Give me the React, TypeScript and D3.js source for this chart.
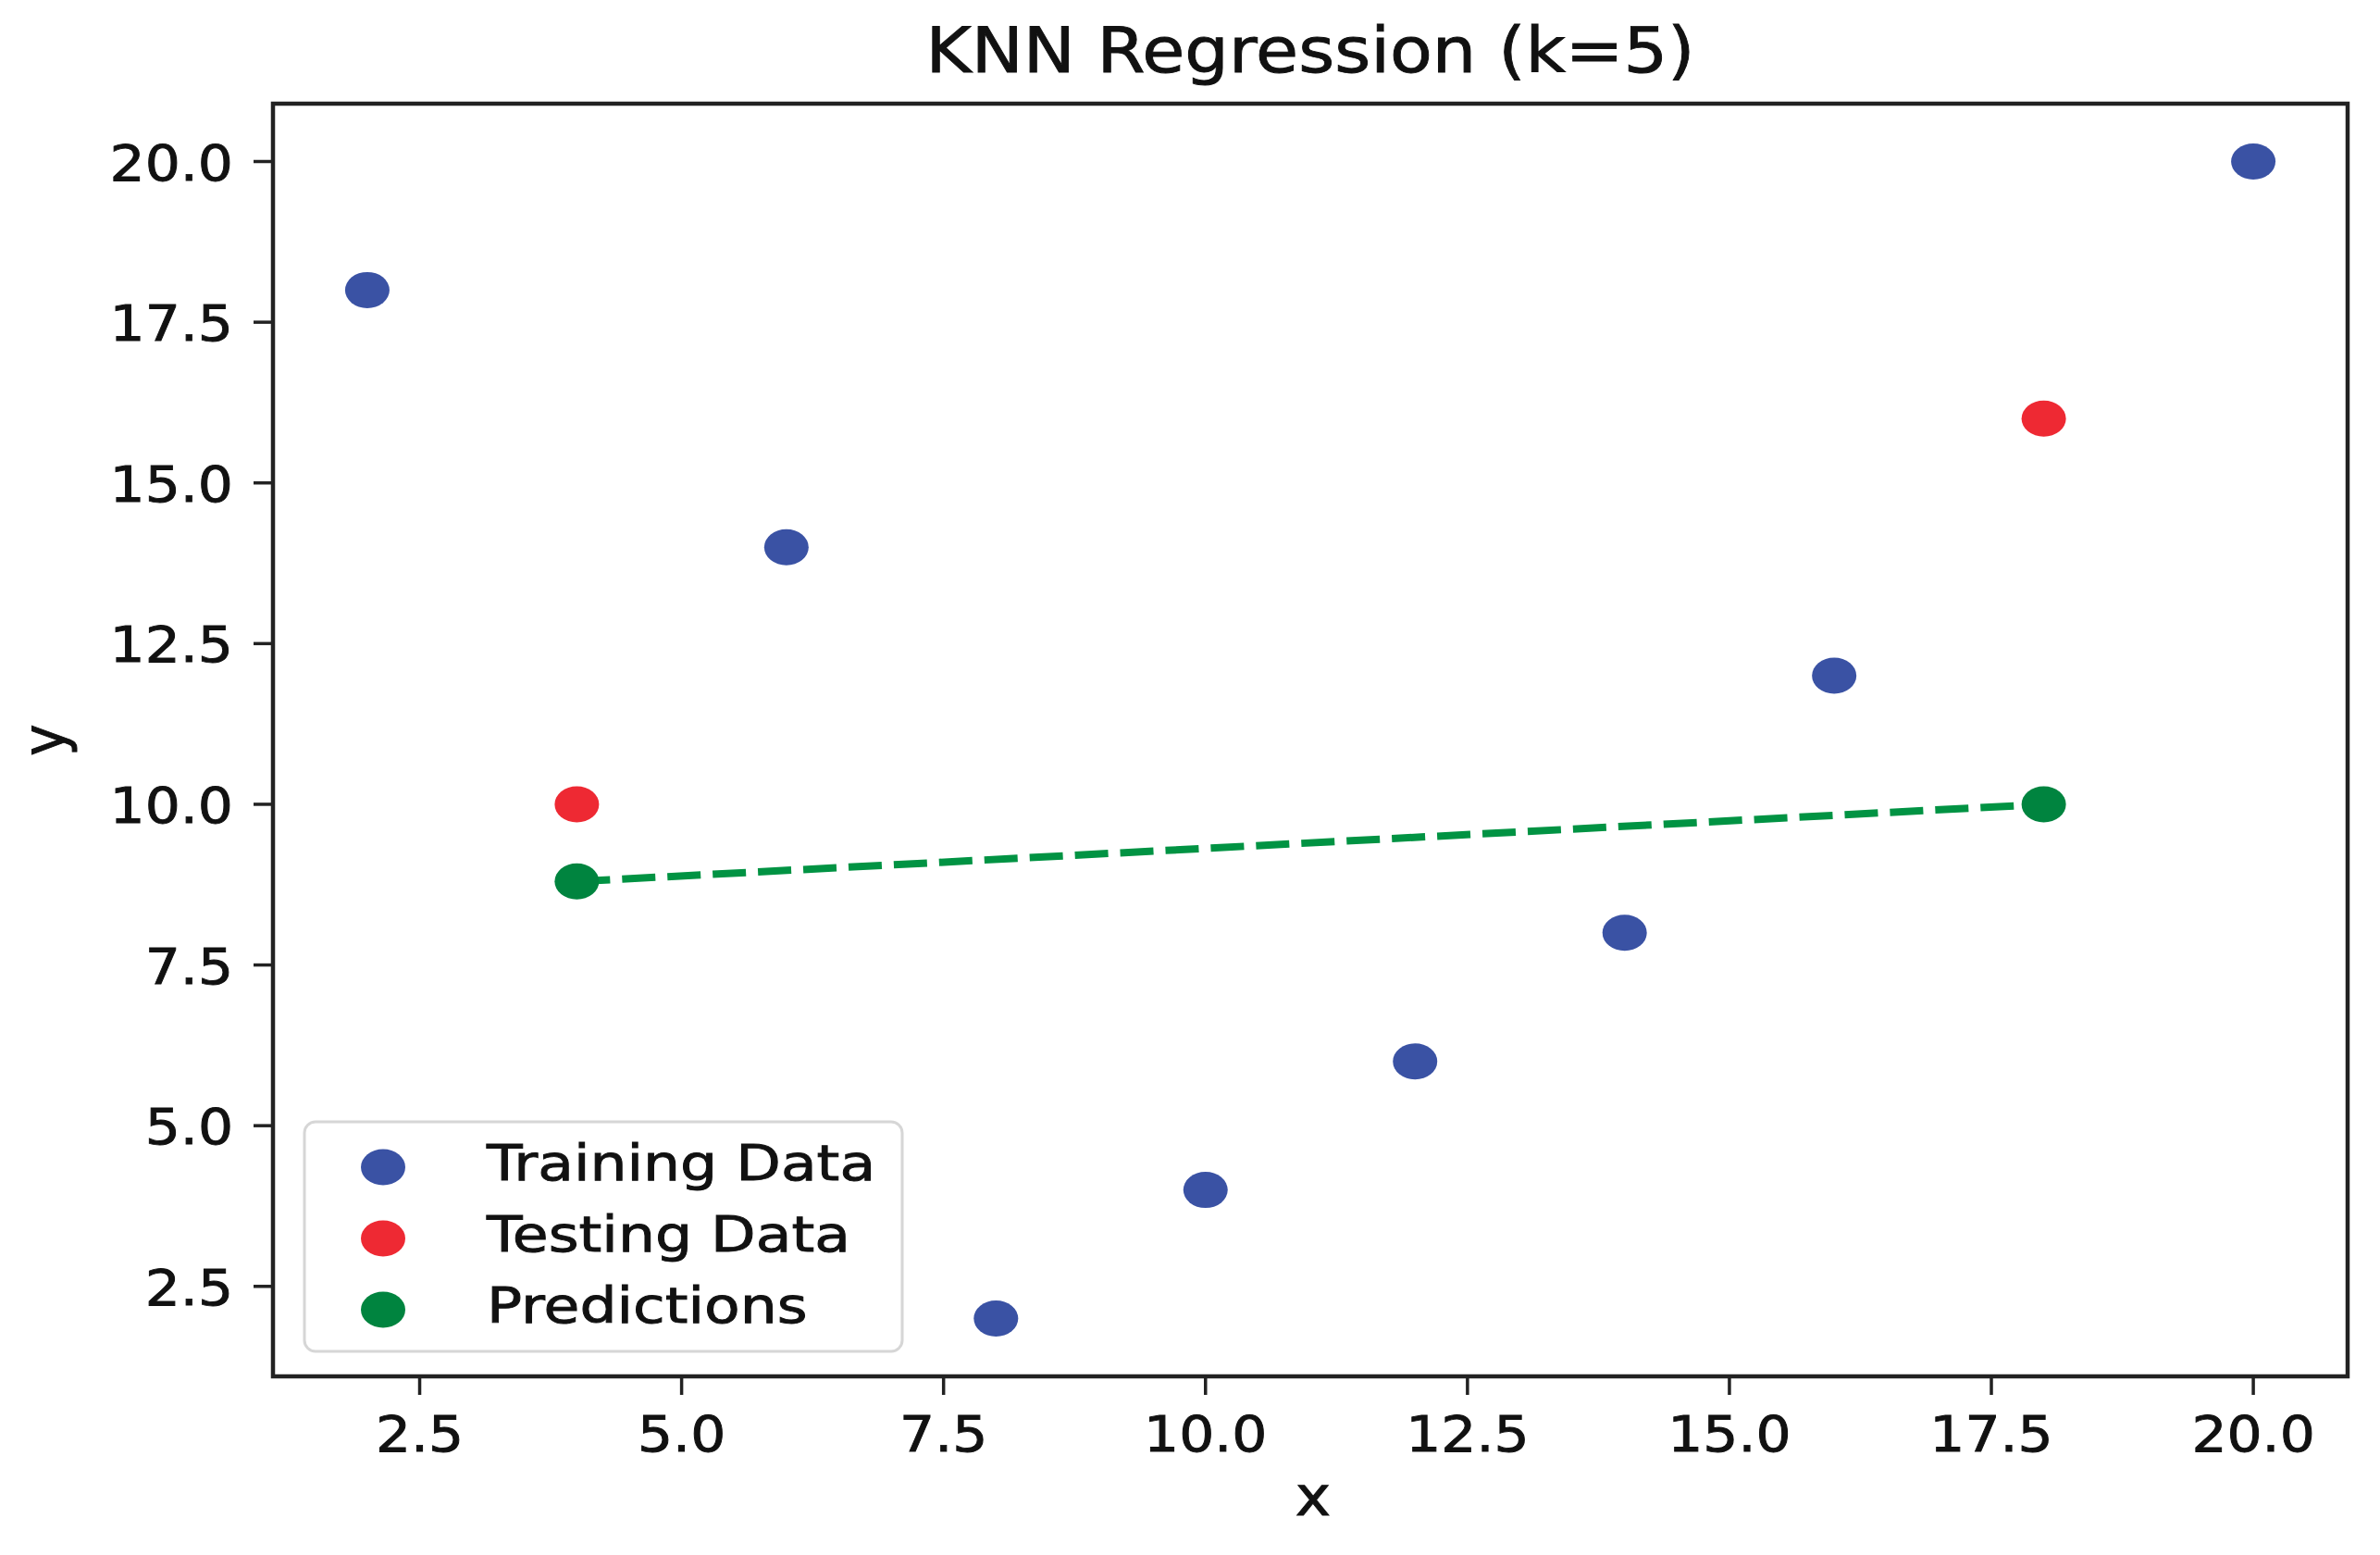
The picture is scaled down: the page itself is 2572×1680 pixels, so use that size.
import * as d3 from "d3";

const trainX = [2, 6, 8, 10, 12, 14, 16, 20];
const trainY = [18, 14, 2, 4, 6, 8, 12, 20];
const testX = [4, 18];
const testY = [10, 16];
const predX = [4, 18];
const predY = [8.8, 10];
const tickValues = [2.5, 5, 7.5, 10, 12.5, 15, 17.5, 20];
const legendLabels = ["Training Data", "Testing Data", "Predictions"];

const BLUE = "#3a52a4";
const RED = "#ee2933";
const GREEN = "#00843f";
const LINE_GREEN = "#019343";

const W = 2572;
const H = 1680;
const SX = 1.12; // picture is stretched sideways a bit
const INK = "#111";

export default function App() {
  const x = d3.scaleLinear().domain([1.1, 20.9]).range([295, 2537]);
  const y = d3.scaleLinear().domain([1.1, 20.9]).range([1487, 112]);

  const line = d3
    .line<number>()
    .x((d) => x(predX[d]))
    .y((d) => y(predY[d]));

  const font = "'DejaVu Sans', sans-serif";
  const legendColors = [BLUE, RED, GREEN];

  const dot = (cx: number, cy: number, fill: string, key: string) => (
    <ellipse key={key} cx={cx} cy={cy} rx={24} ry={19.5} fill={fill} />
  );

  // text gets a thin outline so it reads as heavy as the blurry original
  const ink = { fill: INK, stroke: INK, strokeWidth: 0.9 };

  return (
    <svg
      width={W}
      height={H}
      style={{ position: "absolute", left: 0, top: 0, background: "#fff" }}
      fontFamily={font}
    >
      {/* title */}
      <text
        transform={`translate(${(x.range()[0] + x.range()[1]) / 2},78) scale(1.11,1)`}
        textAnchor="middle"
        fontSize={67.5}
        {...ink}
      >
        KNN Regression (k=5)
      </text>

      {/* x ticks */}
      {tickValues.map((t) => (
        <g key={"xt" + t}>
          <line x1={x(t)} x2={x(t)} y1={1489} y2={1507} stroke="#222" strokeWidth={3.5} />
          <text
            transform={`translate(${x(t)},1568) scale(${SX},1)`}
            textAnchor="middle"
            fontSize={53.5}
            {...ink}
          >
            {t.toFixed(1)}
          </text>
        </g>
      ))}

      {/* y ticks */}
      {tickValues.map((t) => (
        <g key={"yt" + t}>
          <line x1={274} x2={297} y1={y(t)} y2={y(t)} stroke="#222" strokeWidth={3.5} />
          <text
            transform={`translate(252,${y(t) + 20}) scale(${SX},1)`}
            textAnchor="end"
            fontSize={53.5}
            {...ink}
          >
            {t.toFixed(1)}
          </text>
        </g>
      ))}

      {/* axis labels */}
      <text
        transform={`translate(1419,1637) scale(${SX},1)`}
        textAnchor="middle"
        fontSize={58}
        {...ink}
      >
        x
      </text>
      <text
        transform={`translate(70,${(y.range()[0] + y.range()[1]) / 2}) scale(${SX},1) rotate(-90)`}
        textAnchor="middle"
        fontSize={58}
        {...ink}
      >
        y
      </text>

      {/* data */}
      {trainX.map((d, i) => dot(x(d), y(trainY[i]), BLUE, "tr" + i))}
      {testX.map((d, i) => dot(x(d), y(testY[i]), RED, "te" + i))}
      <path
        d={line(d3.range(predX.length)) || ""}
        fill="none"
        stroke={LINE_GREEN}
        strokeWidth={8}
        strokeDasharray="36 13"
      />
      {predX.map((d, i) => dot(x(d), y(predY[i]), GREEN, "pr" + i))}

      {/* frame */}
      <rect
        x={x.range()[0]}
        y={y.range()[1]}
        width={x.range()[1] - x.range()[0]}
        height={y.range()[0] - y.range()[1]}
        fill="none"
        stroke="#222"
        strokeWidth={4.5}
      />

      {/* legend */}
      <rect x={329} y={1212} width={646} height={248} rx={12} fill="#fff" fillOpacity={0.85} stroke="#d6d6d6" strokeWidth={3} />
      {legendLabels.map((lab, i) => (
        <g key={lab}>
          {dot(414, 1261 + i * 77, legendColors[i], "lg" + i)}
          <text
            transform={`translate(526,${1275 + i * 77}) scale(1.17,1)`}
            fontSize={54}
            {...ink}
          >
            {lab}
          </text>
        </g>
      ))}
    </svg>
  );
}
